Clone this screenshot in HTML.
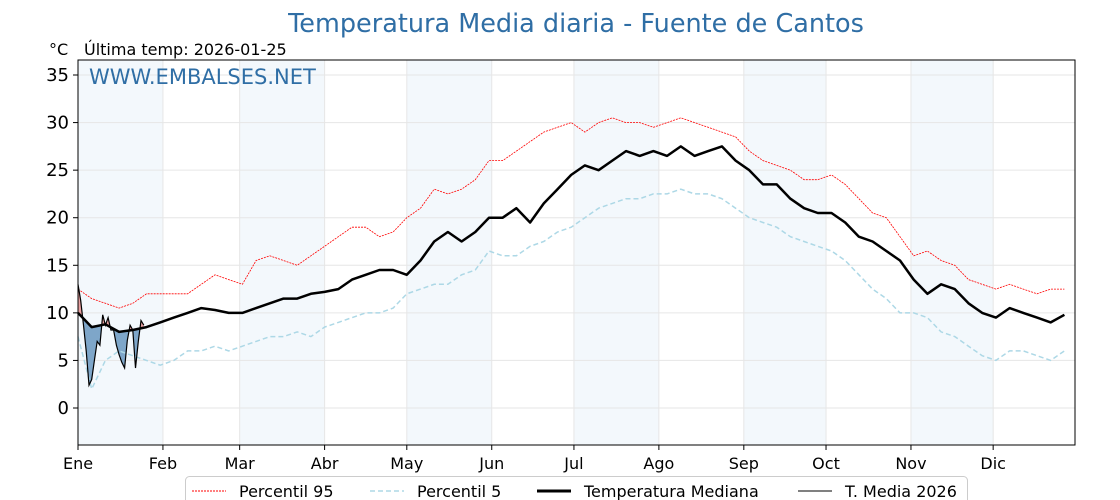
<!DOCTYPE html>
<html><head><meta charset="utf-8"><style>
body{margin:0;background:#fff;}
svg{display:block;font-family:"DejaVu Sans","Liberation Sans",sans-serif;}
</style></head><body>
<svg id="chart" width="1120" height="500" viewBox="0 0 1120 500">
<text x="576" y="32" text-anchor="middle" font-size="25.5" fill="#2f6ea5">Temperatura Media diaria - Fuente de Cantos</text>
<text x="49" y="55" font-size="16" fill="#000">°C</text>
<text x="84" y="55" font-size="16" fill="#000">Última temp: 2026-01-25</text>
<g id="bands"></g><g id="grid"></g><g id="series"></g>
<rect x="78" y="60" width="997" height="385" fill="none" stroke="#000" stroke-width="1"/>
<text x="89" y="84" font-size="21" fill="#2f6ea5">WWW.EMBALSES.NET</text>
<g id="axes"></g>
<g>
<rect x="185.5" y="476.5" width="782" height="30" rx="4" fill="#fff" stroke="#ccc"/>
<line x1="192" y1="491" x2="226" y2="491" stroke="red" stroke-width="1" stroke-dasharray="2,1"/>
<text x="239" y="497" font-size="16">Percentil 95</text>
<line x1="370" y1="491" x2="404" y2="491" stroke="#add8e6" stroke-width="1.5" stroke-dasharray="5,3"/>
<text x="417" y="497" font-size="16">Percentil 5</text>
<line x1="537" y1="491" x2="571" y2="491" stroke="#000" stroke-width="3"/>
<text x="584" y="497" font-size="16">Temperatura Mediana</text>
<line x1="798" y1="491" x2="832" y2="491" stroke="#000" stroke-width="1"/>
<text x="845" y="497" font-size="16">T. Media 2026</text>
</g>
</svg>
<script>
const step = 5;
const medianVals = [10,8.5,8.8,8,8.2,8.5,9,9.5,10,10.5,10.3,10,10,10.5,11,11.5,11.5,12,12.2,12.5,13.5,14,14.5,14.5,14,15.5,17.5,18.5,17.5,18.5,20,20,21,19.5,21.5,23,24.5,25.5,25,26,27,26.5,27,26.5,27.5,26.5,27,27.5,26,25,23.5,23.5,22,21,20.5,20.5,19.5,18,17.5,16.5,15.5,13.5,12,13,12.5,11,10,9.5,10.5,10,9.5,9,9.8];
const p95Vals = [12.5,11.5,11,10.5,11,12,12,12,12,13,14,13.5,13,15.5,16,15.5,15,16,17,18,19,19,18,18.5,20,21,23,22.5,23,24,26,26,27,28,29,29.5,30,29,30,30.5,30,30,29.5,30,30.5,30,29.5,29,28.5,27,26,25.5,25,24,24,24.5,23.5,22,20.5,20,18,16,16.5,15.5,15,13.5,13,12.5,13,12.5,12,12.5,12.5];
const p5Vals = [7.5,2,5,6,5.5,5,4.5,5,6,6,6.5,6,6.5,7,7.5,7.5,8,7.5,8.5,9,9.5,10,10,10.5,12,12.5,13,13,14,14.5,16.5,16,16,17,17.5,18.5,19,20,21,21.5,22,22,22.5,22.5,23,22.5,22.5,22,21,20,19.5,19,18,17.5,17,16.5,15.5,14,12.5,11.5,10,10,9.5,8,7.5,6.5,5.5,5,6,6,5.5,5,6];
const t2026 = [13,11.3,8.7,6,2.4,3,5,7,6.6,9.8,8.7,9.5,8.2,8.2,6.6,5.6,4.8,4.2,7.1,8.7,8.2,4.2,7,9.2,8.7];
const monthLabels = ["Ene","Feb","Mar","Abr","May","Jun","Jul","Ago","Sep","Oct","Nov","Dic"];
const monthStarts = [0,31,59,90,120,151,181,212,243,273,304,334];
const yTicks = [0,5,10,15,20,25,30,35];

const X0=78, PXD=2.74, Y0=408, PXU=9.514;
const xs = d => X0 + d*PXD;
const ys = v => Y0 - v*PXU;
const NS="http://www.w3.org/2000/svg";
function mk(tag, attrs, parent){const e=document.createElementNS(NS,tag);for(const k in attrs)e.setAttribute(k,attrs[k]);parent.appendChild(e);return e;}
const bands=document.getElementById('bands'), grid=document.getElementById('grid'), ser=document.getElementById('series'), axes=document.getElementById('axes');

for(let m=0;m<12;m+=2){
  const end = m+1<12 ? monthStarts[m+1] : 365;
  const r=mk('rect',{x:xs(monthStarts[m]),y:60,width:xs(end)-xs(monthStarts[m]),height:385,fill:'#f3f8fc'},bands);
  
  
}
yTicks.forEach(v=>{
  const l=mk('line',{x1:78,x2:1075,y1:ys(v),y2:ys(v),stroke:'#e6e6e6','stroke-width':1},grid);
  
  
  mk('line',{x1:73,x2:78,y1:ys(v),y2:ys(v),stroke:'#000'},axes);
  const t=mk('text',{x:69,y:ys(v)+6,'text-anchor':'end','font-size':18},axes);
  t.textContent=v;
  
  
});
monthStarts.forEach((d,i)=>{
  const l=mk('line',{x1:xs(d),x2:xs(d),y1:60,y2:445,stroke:'#e6e6e6'},grid);
  
  
  mk('line',{x1:xs(d),x2:xs(d),y1:445,y2:450,stroke:'#000'},axes);
  const t=mk('text',{x:xs(d),y:469,'text-anchor':'middle','font-size':16},axes);
  t.textContent=monthLabels[i];
  
  
});

function pts(arr, st){return arr.map((v,i)=>xs(i*st).toFixed(1)+','+ys(v).toFixed(1));}
function medAt(d){const i=Math.floor(d/step), f=d/step-i; const a=medianVals[i], b=medianVals[Math.min(i+1,medianVals.length-1)]; return a+(b-a)*f;}

const defs=mk('defs',{},ser);
const medLine = medianVals.map((v,i)=>xs(i*step)+','+ys(v)).join(' ');
const cb=mk('clipPath',{id:'below'},defs);
mk('polygon',{points:medLine+' '+xs(360)+',445 '+xs(0)+',445'},cb);
const ca=mk('clipPath',{id:'above'},defs);
mk('polygon',{points:medLine+' '+xs(360)+',60 '+xs(0)+',60'},ca);
const fwd=t2026.map((v,i)=>xs(i)+','+ys(v));
const back=[];for(let d=t2026.length-1;d>=0;d--)back.push(xs(d)+','+ys(medAt(d)));
const polyPts=fwd.concat(back).join(' ');
const fb=mk('polygon',{points:polyPts,fill:'#7ea6c9','clip-path':'url(#below)'},ser);


const fa=mk('polygon',{points:polyPts,fill:'#e8a0a0','clip-path':'url(#above)'},ser);



const l95=mk('polyline',{points:pts(p95Vals,step).join(' '),fill:'none',stroke:'red','stroke-width':0.8,'stroke-dasharray':'2,1'},ser);


const l5=mk('polyline',{points:pts(p5Vals,step).join(' '),fill:'none',stroke:'#add8e6','stroke-width':1.5,'stroke-dasharray':'5,3'},ser);


const lm=mk('polyline',{points:pts(medianVals,step).join(' '),fill:'none',stroke:'#000','stroke-width':2.5,'stroke-linejoin':'round'},ser);


const l26=mk('polyline',{points:pts(t2026,1).join(' '),fill:'none',stroke:'#000','stroke-width':1.2},ser);


</script>
</body></html>
